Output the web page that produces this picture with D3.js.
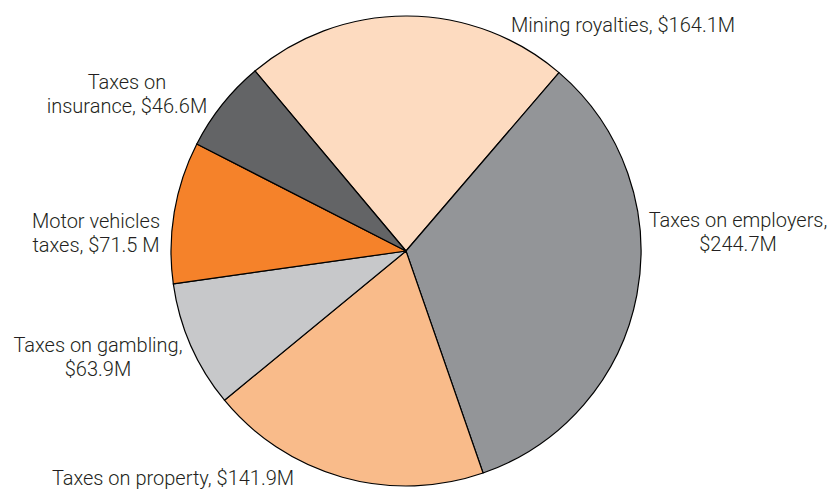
<!DOCTYPE html>
<html>
<head>
<meta charset="utf-8">
<script src="https://cdn.jsdelivr.net/npm/d3@7"></script>
<style>
  html, body { margin: 0; padding: 0; background: #fff; }
  svg text { font-family: Roboto, "Liberation Sans", sans-serif; font-weight: 300; font-size: 20px; fill: #231f20; }
</style>
</head>
<body>
<svg id="chart" width="828" height="489"></svg>
<script>
// revenue categories (clockwise from the top-left)
const categories = ['Mining royalties', 'Taxes on employers', 'Taxes on property',
  'Taxes on gambling', 'Motor vehicles taxes', 'Taxes on insurance'];
const values = [164.1, 244.7, 141.9, 63.9, 71.5, 46.6];
const labelLines = [
  ['Mining royalties, $164.1M'],
  ['Taxes on employers,', '$244.7M'],
  ['Taxes on property, $141.9M'],
  ['Taxes on gambling,', '$63.9M'],
  ['Motor vehicles', 'taxes, $71.5 M'],
  ['Taxes on', 'insurance, $46.6M']
];
const colors = ['#fddbc0', '#939598', '#f9bb8a', '#c7c8ca', '#f5822a', '#636466'];

// label anchors (layout only)
const labelPos = [[623, 32], [738, 227], [173, 485], [98, 352], [96, 228], [127, 89]];

const width = 828, height = 489;
const cx = 406, cy = 251, radius = 235;

const svg = d3.select('#chart');
const data = categories.map((c, i) => ({ name: c, value: values[i], i }));

const startA = -40 * Math.PI / 180;
const pie = d3.pie().sort(null).value(d => d.value)
  .startAngle(startA).endAngle(startA + 2 * Math.PI);
const arc = d3.arc().innerRadius(0).outerRadius(radius);

const g = svg.append('g').attr('transform', `translate(${cx},${cy})`);
g.selectAll('path')
  .data(pie(data))
  .join('path')
  .attr('d', arc)
  .attr('fill', d => colors[d.data.i])
  .attr('stroke', '#000')
  .attr('stroke-width', 1.2)
  .attr('stroke-linejoin', 'round');

const lab = svg.append('g');
data.forEach((d, i) => {
  const t = lab.append('text')
    .attr('text-anchor', 'middle')
    .attr('x', labelPos[i][0])
    .attr('y', labelPos[i][1]);
  labelLines[i].forEach((line, k) => {
    t.append('tspan')
      .attr('x', labelPos[i][0])
      .attr('dy', k === 0 ? 0 : 24)
      .text(line);
  });
});
</script>
</body>
</html>
